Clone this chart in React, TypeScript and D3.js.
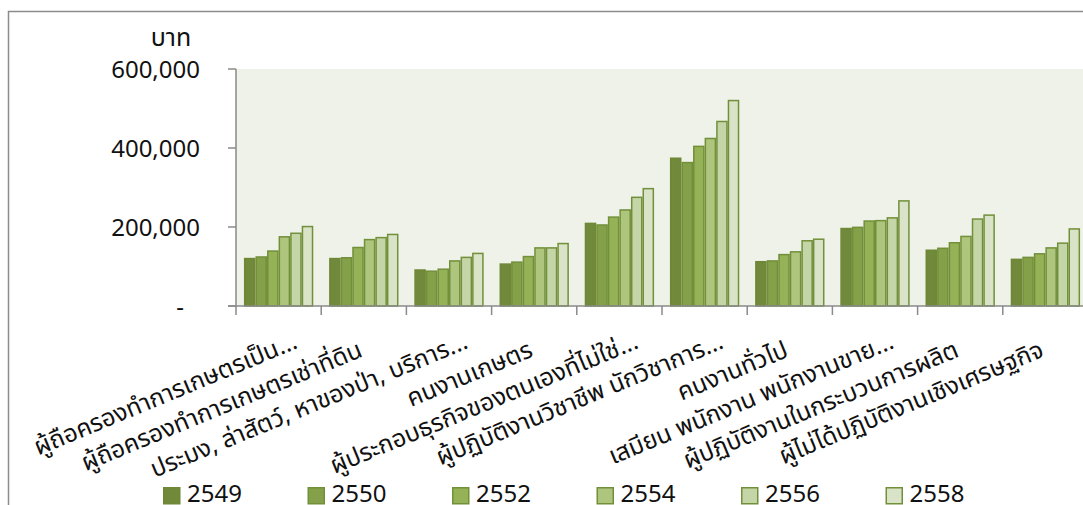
import React from "react";
import * as d3 from "d3";

// Occupation categories (x axis)
const categories = [
  "ผู้ถือครองทำการเกษตรเป็น...",
  "ผู้ถือครองทำการเกษตรเช่าที่ดิน",
  "ประมง, ล่าสัตว์, หาของป่า, บริการ...",
  "คนงานเกษตร",
  "ผู้ประกอบธุรกิจของตนเองที่ไม่ใช่...",
  "ผู้ปฏิบัติงานวิชาชีพ นักวิชาการ...",
  "คนงานทั่วไป",
  "เสมียน พนักงาน พนักงานขาย...",
  "ผู้ปฏิบัติงานในกระบวนการผลิต",
  "ผู้ไม่ได้ปฏิบัติงานเชิงเศรษฐกิจ",
];

// Survey years
const years = ["2549", "2550", "2552", "2554", "2556", "2558"];

// Average values per year (baht), one entry per category
const v2549 = [122000, 122000, 93000, 108000, 211000, 376000, 114000, 198000, 143000, 120000];
const v2550 = [126000, 124000, 90000, 113000, 207000, 365000, 116000, 201000, 148000, 125000];
const v2552 = [141000, 150000, 95000, 127000, 227000, 406000, 132000, 217000, 162000, 134000];
const v2554 = [177000, 170000, 116000, 149000, 245000, 426000, 139000, 218000, 178000, 149000];
const v2556 = [186000, 175000, 125000, 149000, 277000, 469000, 167000, 225000, 222000, 161000];
const v2558 = [203000, 183000, 135000, 160000, 299000, 522000, 171000, 268000, 232000, 197000];
const seriesValues = [v2549, v2550, v2552, v2554, v2556, v2558];

const yTicks = [0, 200000, 400000, 600000];
const yUnit = "บาท";

const fills = ["#71893b", "#84a049", "#96b257", "#adc57d", "#c4d5a7", "#d9e3c8"];
const strokes = ["#6e8836", "#728f3a", "#728f3a", "#728f3a", "#728f3a", "#728f3a"];

const FONT = "Tahoma, 'Leelawadee UI', 'Noto Sans Thai', 'Noto Sans', 'DejaVu Sans', sans-serif";

export default function App() {
  const W = 1083;
  const H = 505;
  const plot = { left: 236, right: 1088, top: 69, bottom: 306 };

  const x = d3.scaleBand<string>().domain(categories).range([plot.left, plot.right]).padding(0);
  const bw = x.bandwidth();
  const inner = d3
    .scaleBand<string>()
    .domain(years)
    .range([bw * 0.093, bw * 0.907])
    .padding(0);
  const y = d3.scaleLinear().domain([0, 600000]).range([plot.bottom, plot.top]);
  const fmt = (v: number) => (v === 0 ? "-" : d3.format(",")(v));

  const axisColor = "#8a8a8a";
  const angle = -22.5;
  const rad = (angle * Math.PI) / 180;

  return (
    <svg
      width={W}
      height={H}
      style={{ position: "absolute", left: 0, top: 0, background: "#ffffff" }}
      fontFamily={FONT}
    >
      {/* chart frame */}
      <rect x={8.5} y={11.5} width={W + 20} height={H + 20} fill="#ffffff" stroke="#8c8c8c" strokeWidth={1.5} />

      {/* plot area */}
      <rect x={plot.left} y={plot.top} width={plot.right - plot.left} height={plot.bottom - plot.top} fill="#eff2e9" />

      {/* unit label */}
      <text x={171} y={46} fontSize={25} textAnchor="middle" fill="#111">
        {yUnit}
      </text>

      {/* y axis */}
      <line x1={plot.left} x2={plot.left} y1={plot.top} y2={plot.bottom} stroke={axisColor} strokeWidth={1.5} />
      {yTicks.map((t) => (
        <g key={t}>
          <line x1={plot.left - 8} x2={plot.left} y1={y(t)} y2={y(t)} stroke={axisColor} strokeWidth={1.5} />
          <text
            x={200}
            dx={t === 0 ? -16 : 0}
            y={y(t)}
            dy="0.36em"
            fontSize={24}
            textAnchor="end"
            fill="#111"
          >
            {fmt(t)}
          </text>
        </g>
      ))}

      {/* bars */}
      {categories.map((c, ci) => (
        <g key={c} transform={`translate(${x(c)},0)`}>
          {years.map((yr, si) => {
            const v = seriesValues[si][ci];
            return (
              <rect
                key={yr}
                x={inner(yr)! + 0.75}
                y={y(v) + 0.75}
                width={inner.bandwidth() - 1.5}
                height={y(0) - y(v) - 0.75}
                fill={fills[si]}
                stroke={strokes[si]}
                strokeWidth={1.5}
              />
            );
          })}
        </g>
      ))}

      {/* x axis */}
      <line x1={plot.left - 8} x2={plot.right} y1={plot.bottom} y2={plot.bottom} stroke={axisColor} strokeWidth={1.5} />
      {categories.map((c) => (
        <line
          key={c}
          x1={x(c)!}
          x2={x(c)!}
          y1={plot.bottom}
          y2={plot.bottom + 9}
          stroke={axisColor}
          strokeWidth={1.5}
        />
      ))}

      {/* category labels */}
      {categories.map((c) => {
        const cx = x(c)! + bw / 2;
        const cy = 356;
        const extra = c.endsWith("...") ? 22 : 0;
        const ax = cx + extra * Math.cos(rad);
        const ay = cy + extra * Math.sin(rad);
        return (
          <text
            key={c}
            x={ax}
            y={ay}
            fontSize={24.5}
            textAnchor="end"
            fill="#111"
            transform={`rotate(${angle},${ax},${ay})`}
          >
            {c}
          </text>
        );
      })}

      {/* legend */}
      {years.map((yr, i) => {
        const lx = 163 + i * 144.5;
        return (
          <g key={yr}>
            <rect x={lx + 0.75} y={487.75} width={16} height={16} fill={fills[i]} stroke={strokes[i]} strokeWidth={1.5} />
            <text x={lx + 24} y={502} fontSize={24} fill="#111">
              {yr}
            </text>
          </g>
        );
      })}
    </svg>
  );
}
